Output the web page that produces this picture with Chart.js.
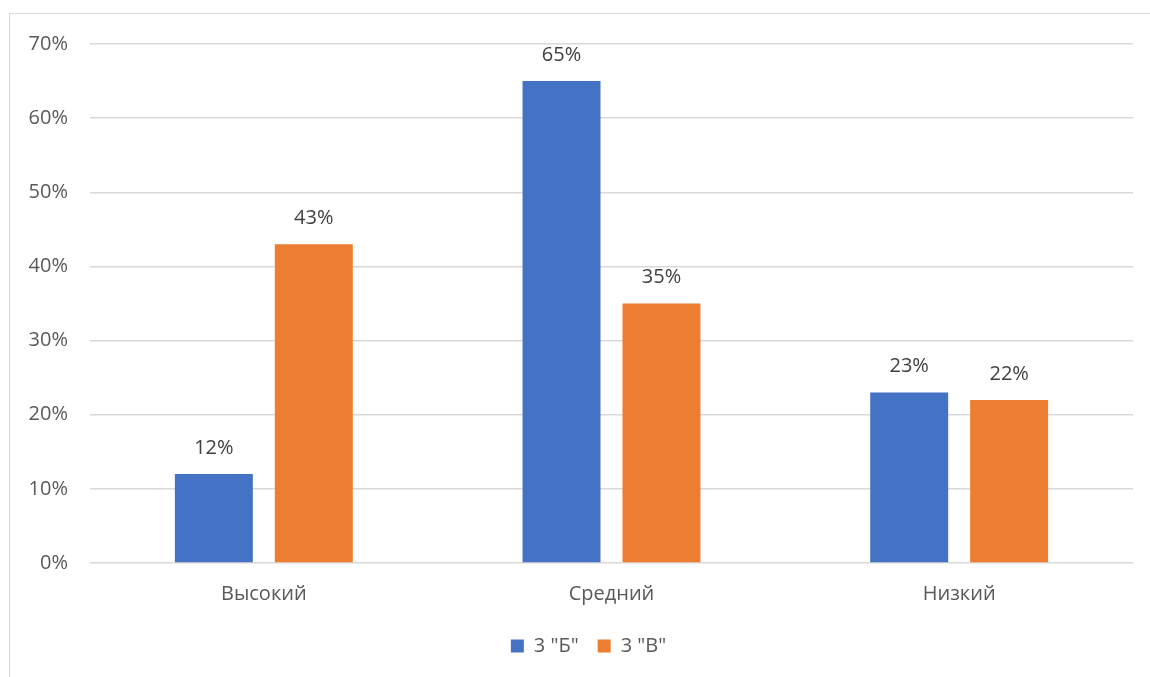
<!DOCTYPE html>
<html>
<head>
<meta charset="utf-8">
<script src="https://cdn.jsdelivr.net/npm/chart.js@4"></script>
<style>
  html, body { margin: 0; padding: 0; background: #fff; }
  #wrap { position: relative; width: 1150px; height: 677px; overflow: hidden; }
  #frame { position: absolute; left: 9px; top: 13px; width: 1200px; height: 700px; border: 1px solid #d9d9d9; box-sizing: border-box; }
  canvas { position: absolute; left: 0; top: 0; }
</style>
</head>
<body>
<div id="wrap">
  <div id="frame"></div>
  <canvas id="barChart" width="1150" height="677"></canvas>
</div>
<script>
var categories = ['Высокий', 'Средний', 'Низкий'];
var seriesNames = ['3 "Б"', '3 "В"'];
var valuesB = [12, 65, 23];
var valuesV = [43, 35, 22];
var yTicks = [0, 10, 20, 30, 40, 50, 60, 70];

var fontFamily = "'Open Sans', 'Noto Sans', sans-serif";
var fontSize = 20;

// value labels above the bars
var barLabels = {
  id: 'barLabels',
  afterDatasetsDraw: function(chart) {
    var ctx = chart.ctx;
    ctx.save();
    ctx.fillStyle = '#404040';
    ctx.font = fontSize + 'px ' + fontFamily;
    ctx.textAlign = 'center';
    ctx.textBaseline = 'middle';
    chart.data.datasets.forEach(function(ds, i) {
      chart.getDatasetMeta(i).data.forEach(function(bar, j) {
        ctx.fillText(ds.data[j] + '%', bar.x, bar.y - 26);
      });
    });
    ctx.restore();
  }
};

// legend is centred on the whole frame, not on the plot
var shiftLegend = {
  id: 'shiftLegend',
  beforeDraw: function(chart) {
    if (chart.legend && !chart.legend._shifted) {
      chart.legend.left += 17;
      chart.legend.right += 17;
      chart.legend._shifted = true;
    }
  }
};

var ctx = document.getElementById('barChart').getContext('2d');
var chart = new Chart(ctx, {
  type: 'bar',
  data: {
    labels: categories,
    datasets: [{
      label: seriesNames[0],
      data: valuesB,
      backgroundColor: '#4472c4'
    }, {
      label: seriesNames[1],
      data: valuesV,
      backgroundColor: '#ed7d31'
    }]
  },
  options: {
    responsive: false,
    animation: false,
    categoryPercentage: 0.575,
    barPercentage: 0.78,
    layout: { padding: { left: 10, right: 17, top: 44, bottom: 11 } },
    plugins: {
      legend: {
        position: 'bottom',
        labels: {
          color: '#595959',
          font: { family: fontFamily, size: fontSize },
          boxWidth: 13,
          boxHeight: 13,
          padding: 19
        }
      },
      tooltip: { enabled: false }
    },
    scales: {
      x: {
        afterFit: function(scale) { scale.height = 54; },
        grid: { display: false },
        border: { display: false },
        ticks: { color: '#595959', font: { family: fontFamily, size: fontSize }, padding: 11 }
      },
      y: {
        min: 0,
        max: 70,
        afterFit: function(scale) { scale.width = 80; },
        afterBuildTicks: function(scale) {
          scale.ticks = yTicks.map(function(v) { return { value: v }; });
        },
        grid: { color: '#d9d9d9', lineWidth: 1.5, drawTicks: false },
        border: { display: false },
        ticks: {
          color: '#595959',
          font: { family: fontFamily, size: fontSize },
          padding: 22,
          callback: function(v) { return v + '%'; }
        }
      }
    }
  },
  plugins: [barLabels, shiftLegend]
});
</script>
</body>
</html>
